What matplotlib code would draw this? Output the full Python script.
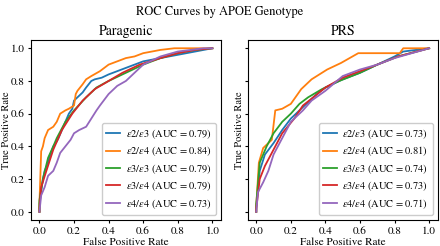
import matplotlib
matplotlib.use('Agg')
import matplotlib.pyplot as plt

plt.rcParams['font.family'] = 'STIXGeneral'
plt.rcParams['mathtext.fontset'] = 'stix'

genotypes = ['$\\epsilon2/\\epsilon3$', '$\\epsilon2/\\epsilon4$', '$\\epsilon3/\\epsilon3$',
             '$\\epsilon3/\\epsilon4$', '$\\epsilon4/\\epsilon4$']
colors = ['#1f77b4', '#ff7f0e', '#2ca02c', '#d62728', '#9467bd']

# Paragenic model curves (fpr, tpr)
para_auc = [0.79, 0.84, 0.79, 0.79, 0.73]
para_fpr = [
    [0, 0.0, 0.02, 0.03, 0.05, 0.06, 0.08, 0.1, 0.11, 0.13, 0.15, 0.17, 0.19, 0.2, 0.22, 0.25, 0.27, 0.3, 0.32, 0.36, 0.4, 0.45, 0.5, 0.55, 0.6, 0.65, 0.7, 0.8, 0.9, 1.0],
    [0, 0.0, 0.01, 0.02, 0.03, 0.05, 0.08, 0.1, 0.12, 0.15, 0.17, 0.2, 0.21, 0.22, 0.25, 0.27, 0.3, 0.35, 0.4, 0.45, 0.5, 0.55, 0.6, 0.7, 0.78, 1.0],
    [0, 0.0, 0.02, 0.05, 0.08, 0.1, 0.15, 0.2, 0.27, 0.33, 0.4, 0.5, 0.6, 0.7, 0.8, 0.9, 1.0],
    [0, 0.0, 0.01, 0.04, 0.08, 0.13, 0.19, 0.25, 0.32, 0.4, 0.48, 0.58, 0.7, 0.8, 0.9, 1.0],
    [0, 0.0, 0.01, 0.03, 0.05, 0.08, 0.1, 0.12, 0.15, 0.18, 0.2, 0.23, 0.27, 0.3, 0.33, 0.35, 0.4, 0.45, 0.5, 0.55, 0.6, 0.7, 0.8, 0.95, 1.0],
]
para_tpr = [
    [0, 0.05, 0.2, 0.25, 0.3, 0.34, 0.4, 0.43, 0.45, 0.5, 0.55, 0.6, 0.63, 0.68, 0.7, 0.73, 0.76, 0.8, 0.81, 0.82, 0.84, 0.86, 0.88, 0.9, 0.92, 0.93, 0.94, 0.96, 0.98, 1.0],
    [0, 0.05, 0.37, 0.4, 0.45, 0.5, 0.52, 0.55, 0.6, 0.62, 0.63, 0.65, 0.72, 0.74, 0.78, 0.81, 0.83, 0.86, 0.9, 0.92, 0.94, 0.95, 0.97, 0.99, 1.0, 1.0],
    [0, 0.07, 0.2, 0.33, 0.4, 0.45, 0.55, 0.62, 0.7, 0.76, 0.8, 0.85, 0.9, 0.94, 0.97, 0.99, 1.0],
    [0, 0.02, 0.15, 0.25, 0.38, 0.5, 0.6, 0.68, 0.75, 0.8, 0.85, 0.9, 0.94, 0.97, 0.99, 1.0],
    [0, 0.0, 0.1, 0.15, 0.22, 0.25, 0.3, 0.36, 0.4, 0.44, 0.48, 0.5, 0.52, 0.57, 0.62, 0.65, 0.72, 0.77, 0.8, 0.85, 0.9, 0.95, 0.98, 1.0, 1.0],
]

# PRS model curves (fpr, tpr)
prs_auc = [0.73, 0.81, 0.74, 0.73, 0.71]
prs_fpr = [
    [0, 0.0, 0.02, 0.05, 0.1, 0.15, 0.2, 0.25, 0.3, 0.35, 0.4, 0.5, 0.6, 0.7, 0.8, 0.85, 1.0],
    [0, 0.0, 0.015, 0.04, 0.09, 0.11, 0.15, 0.2, 0.26, 0.32, 0.41, 0.49, 0.59, 0.83, 0.85, 1.0],
    [0, 0.0, 0.02, 0.06, 0.1, 0.15, 0.2, 0.25, 0.3, 0.38, 0.48, 0.6, 0.7, 0.82, 1.0],
    [0, 0.0, 0.02, 0.05, 0.1, 0.15, 0.22, 0.27, 0.33, 0.4, 0.5, 0.6, 0.7, 0.82, 1.0],
    [0, 0.0, 0.01, 0.04, 0.07, 0.1, 0.15, 0.2, 0.27, 0.32, 0.4, 0.5, 0.6, 0.7, 0.8, 1.0],
]
prs_tpr = [
    [0, 0.03, 0.25, 0.35, 0.42, 0.5, 0.57, 0.62, 0.67, 0.72, 0.76, 0.81, 0.85, 0.9, 0.95, 0.98, 1.0],
    [0, 0.03, 0.3, 0.39, 0.44, 0.62, 0.63, 0.66, 0.75, 0.81, 0.87, 0.91, 0.97, 0.97, 1.0, 1.0],
    [0, 0.05, 0.3, 0.4, 0.48, 0.55, 0.6, 0.66, 0.7, 0.75, 0.8, 0.85, 0.9, 0.95, 1.0],
    [0, 0.02, 0.2, 0.28, 0.38, 0.48, 0.57, 0.65, 0.7, 0.76, 0.82, 0.86, 0.9, 0.95, 1.0],
    [0, 0.0, 0.12, 0.18, 0.25, 0.35, 0.45, 0.55, 0.62, 0.68, 0.74, 0.83, 0.87, 0.9, 0.94, 1.0],
]

fig, axes = plt.subplots(1, 2, figsize=(4.4, 2.46), dpi=100, sharey=True)
fig.subplots_adjust(left=0.07, right=0.995, top=0.837, bottom=0.106, wspace=0.14)

panels = [('Paragenic', para_fpr, para_tpr, para_auc), ('PRS', prs_fpr, prs_tpr, prs_auc)]
for ax, (name, fprs, tprs, aucs) in zip(axes, panels):
    for i in range(len(genotypes)):
        ax.plot(fprs[i], tprs[i], color=colors[i], lw=1.3,
                label=f'{genotypes[i]} (AUC = {aucs[i]:.2f})')
    ax.set_title(name, fontsize=10, pad=4)
    ax.set_xlabel('False Positive Rate', fontsize=8, labelpad=1)
    ax.set_ylabel('True Positive Rate', fontsize=7.5, labelpad=0)
    ax.tick_params(labelsize=8, length=2.5, pad=2)
    ax.set_xticks([0, 0.2, 0.4, 0.6, 0.8, 1.0])
    ax.set_yticks([0, 0.2, 0.4, 0.6, 0.8, 1.0])
    ax.legend(loc='lower right', fontsize=7.5, handlelength=1.4, handletextpad=0.5,
              labelspacing=0.35, borderpad=0.4, framealpha=1)

fig.suptitle('ROC Curves by APOE Genotype', fontsize=9, y=0.975)
fig.savefig('out.png', dpi=100)
